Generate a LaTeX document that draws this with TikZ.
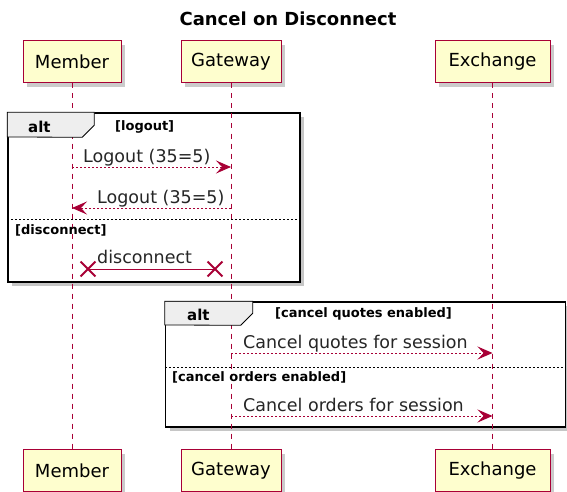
\documentclass[tikz,border=0pt]{standalone}
\usepackage{fontspec}
\setmainfont{DejaVu Sans}
\usepackage{xcolor}
\usepackage{tikz}
\usetikzlibrary{arrows.meta, positioning, shadows, shapes.misc}

\definecolor{umlred}{HTML}{A80036}
\definecolor{umlfill}{HTML}{FEFECE}
\definecolor{tabgray}{HTML}{EEEEEE}

\begin{document}
\begin{tikzpicture}[
  x=1pt, y=-1pt,
  actor/.style={draw=umlred, fill=umlfill, line width=1pt, minimum height=42pt, inner sep=0pt,
    font=\fontsize{18}{20}\selectfont,
    drop shadow={shadow xshift=4pt, shadow yshift=-4pt, fill=black!45, opacity=0.45}},
  lifeline/.style={draw=umlred, line width=1pt, dash pattern=on 5pt off 5pt},
  altframe/.style={draw=black, line width=1.5pt, fill=white, inner sep=0pt,
    drop shadow={shadow xshift=4pt, shadow yshift=-4pt, fill=black!50, opacity=0.45}},
  tab/.style={draw=black, line width=0.8pt, fill=tabgray},
  sep/.style={draw=black, line width=0.8pt, dash pattern=on 2pt off 2pt},
  msg/.style={draw=umlred, line width=1pt, dash pattern=on 2pt off 2pt,
    -{Stealth[length=15pt, width=13pt, inset=6pt]}},
  kill/.style={draw=umlred, line width=1.8pt, cross out, minimum size=13pt, inner sep=0pt},
  msglabel/.style={anchor=base west, inner sep=0pt, text=black!85, font=\fontsize{17.5}{20}\selectfont},
  guard/.style={anchor=base west, inner sep=0pt, font=\bfseries\fontsize{13}{15}\selectfont},
  alttext/.style={anchor=base west, inner sep=0pt, font=\bfseries\fontsize{15}{17}\selectfont}
]
\useasboundingbox (0,0) rectangle (567,492);

\node (title) [anchor=base, font=\bfseries\fontsize{18}{20}\selectfont] at (288,26) {Cancel on Disconnect};

% participants
\node (mem) [actor, minimum width=98pt] at (72,62) {Member};
\node (gw) [actor, minimum width=100pt] at (231,62) {Gateway};
\node (ex) [actor, minimum width=115pt] at (492.5,62) {Exchange};
\node (mem2) [actor, minimum width=98pt] at (72,470.5) {Member};
\node (gw2) [actor, minimum width=100pt] at (231,470.5) {Gateway};
\node (ex2) [actor, minimum width=115pt] at (492.5,470.5) {Exchange};

% alt frames
\node (alt1) [altframe, minimum width=292pt, minimum height=169pt] at (154,197.5) {};
\node (alt2) [altframe, minimum width=400pt, minimum height=125pt] at (365.5,364.5) {};

\draw[lifeline] (mem) -- (mem2);
\draw[lifeline] (gw) -- (gw2);
\draw[lifeline] (ex) -- (ex2);

% first alt
\draw[tab] (alt1.north west) -- ++(87,0) -- ++(0,13) -- ++(-12,12) -- (alt1.west |- 0,137) -- cycle;
\node (alt1txt) [alttext] at (28,132) {alt};
\node (g1) [guard] at (115,131) {[logout]};
\draw[msg] (mem |- 0,167) -- (gw |- 0,167);
\node (l1) [msglabel] at (83,162) {Logout (35=5)};
\draw[msg] (gw |- 0,208) -- (mem |- 0,208);
\node (l2) [msglabel] at (97,203) {Logout (35=5)};
\draw[sep] (alt1.west |- 0,219) -- (alt1.east |- 0,219);
\node (g2) [guard] at (15,234) {[disconnect]};
\node (x1) [kill] at (88,269) {};
\node (x2) [kill] at (215,269) {};
\draw[umlred, line width=1pt] (x1.center) -- (x2.center);
\node (l3) [msglabel] at (97,263) {disconnect};

% second alt
\draw[tab] (alt2.north west) -- ++(88,0) -- ++(0,12) -- ++(-12,12) -- (alt2.west |- 0,325) -- cycle;
\node (alt2txt) [alttext] at (187,320) {alt};
\node (g3) [guard] at (275,317) {[cancel quotes enabled]};
\draw[msg] (gw |- 0,353) -- (ex |- 0,353);
\node (l4) [msglabel] at (243,348) {Cancel quotes for session};
\draw[sep] (alt2.west |- 0,367) -- (alt2.east |- 0,367);
\node (g4) [guard] at (172,381) {[cancel orders enabled]};
\draw[msg] (gw |- 0,416) -- (ex |- 0,416);
\node (l5) [msglabel] at (243,411) {Cancel orders for session};

\end{tikzpicture}
\end{document}
